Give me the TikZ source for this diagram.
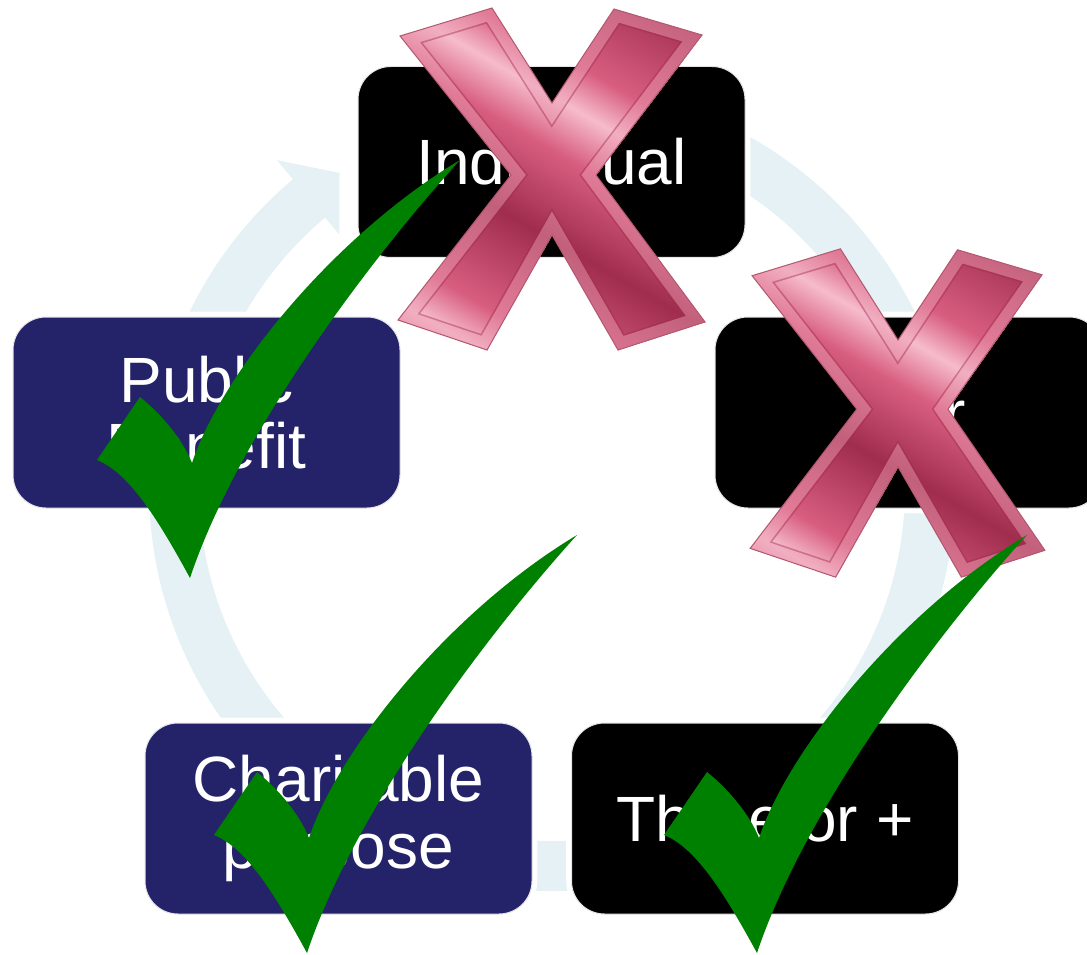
\documentclass[tikz,border=0pt]{standalone}
\usepackage{fontspec}
\setmainfont{Liberation Sans}
\usetikzlibrary{calc}
\definecolor{navy}{RGB}{36,35,106}
\definecolor{ringc}{RGB}{229,241,244}
\definecolor{chk}{RGB}{0,128,0}
\definecolor{xdark}{RGB}{160,45,78}
\definecolor{xmid}{RGB}{216,94,128}
\definecolor{xlight}{RGB}{246,188,204}
\pgfdeclarehorizontalshading{xmetal}{100bp}{color(0bp)=(xdark); color(14bp)=(xmid); color(22bp)=(xlight); color(28bp)=(xmid); color(42bp)=(xdark); color(54bp)=(xmid); color(61bp)=(xlight); color(67bp)=(xmid); color(82bp)=(xdark); color(92bp)=(xmid); color(100bp)=(xdark)}
% #1 left waist, #2 right waist
\newcommand\xoutline[2]{(-152,-143) -- (-60,-171) -- (0,-76) -- (62,-170) -- (150,-144) -- (#2,-4) -- (153,143) -- (66,171) -- (0,56) -- (-65,171) -- (-154,141) -- (#1,-4) -- cycle}
\newcommand\chkoutline{(0,0) .. controls (-30,-55) and (-60,-105) .. (-93,-118) -- (-50,-181) .. controls (-30,-165) and (-8,-140) .. (2,-115) .. controls (30,-200) and (140,-340) .. (270,-418) .. controls (190,-330) and (50,-150) .. (0,0) -- cycle}
% centre x, centre y, scale, left waist, right waist
\newcommand\mkX[5]{%
  \begin{scope}[shift={(#1,#2)}, scale=#3]
    \begin{scope}
      \clip \xoutline{#4}{#5};
      \shade[shading=xmetal, shading angle=60] \xoutline{#4}{#5};
      \begin{scope}[transparency group, opacity=.45]
        \draw[xdark, line width=20pt, line join=miter] \xoutline{#4}{#5};
        \draw[xlight!70!xmid, line width=17.5pt, line join=miter] \xoutline{#4}{#5};
      \end{scope}
    \end{scope}
    \draw[xdark!80!white, line width=0.75pt, line join=miter] \xoutline{#4}{#5};
  \end{scope}}
\newcommand\mkCheck[2]{%
  \begin{scope}[shift={(#1,#2)}]
    \fill[chk] \chkoutline;
  \end{scope}}
\begin{document}
\begin{tikzpicture}[x=0.75pt, y=-0.75pt,
  box/.style={rounded corners=24.75pt, minimum width=290.25pt, minimum height=143.25pt,
    inner sep=0pt, text=white, align=center, font=\fontsize{48}{50}\selectfont,
    draw=white!80!gray, line width=0.75pt,
    preaction={draw=white, line width=8pt}}]
\useasboundingbox (0,0) rectangle (1087,955);
\clip (0,0) rectangle (1087,955);
% ring arrow
\coordinate (C) at (552,488);
\fill[ringc] ($(C)+(-100:403)$) arc[start angle=-100, end angle=230, radius=403]
  -- ($(C)+(230:428)$) -- ($(C)+(236:380)$) -- ($(C)+(230:331)$)
  -- ($(C)+(230:353)$) arc[start angle=230, end angle=-100, radius=353] -- cycle;
% boxes
\node[box, fill=black] (ind) at (551.5,162) {Individual};
\node[box, fill=black] (pair) at (908.5,412.5) {Pair};
\node[box, fill=black] (three) at (765,818.5) {Three or +};
\node[box, fill=navy] (char) at (338.5,818.5) {Charitable\\purpose};
\node[box, fill=navy] (pub) at (206.5,412.5) {Public\\Benefit};
% crosses
\mkX{552}{179}{1}{-41}{44}
\mkX{898}{413}{0.96}{-43}{52}
% checks
\mkCheck{190}{578}
\mkCheck{307}{953}
\mkCheck{757}{953}
\end{tikzpicture}
\end{document}
